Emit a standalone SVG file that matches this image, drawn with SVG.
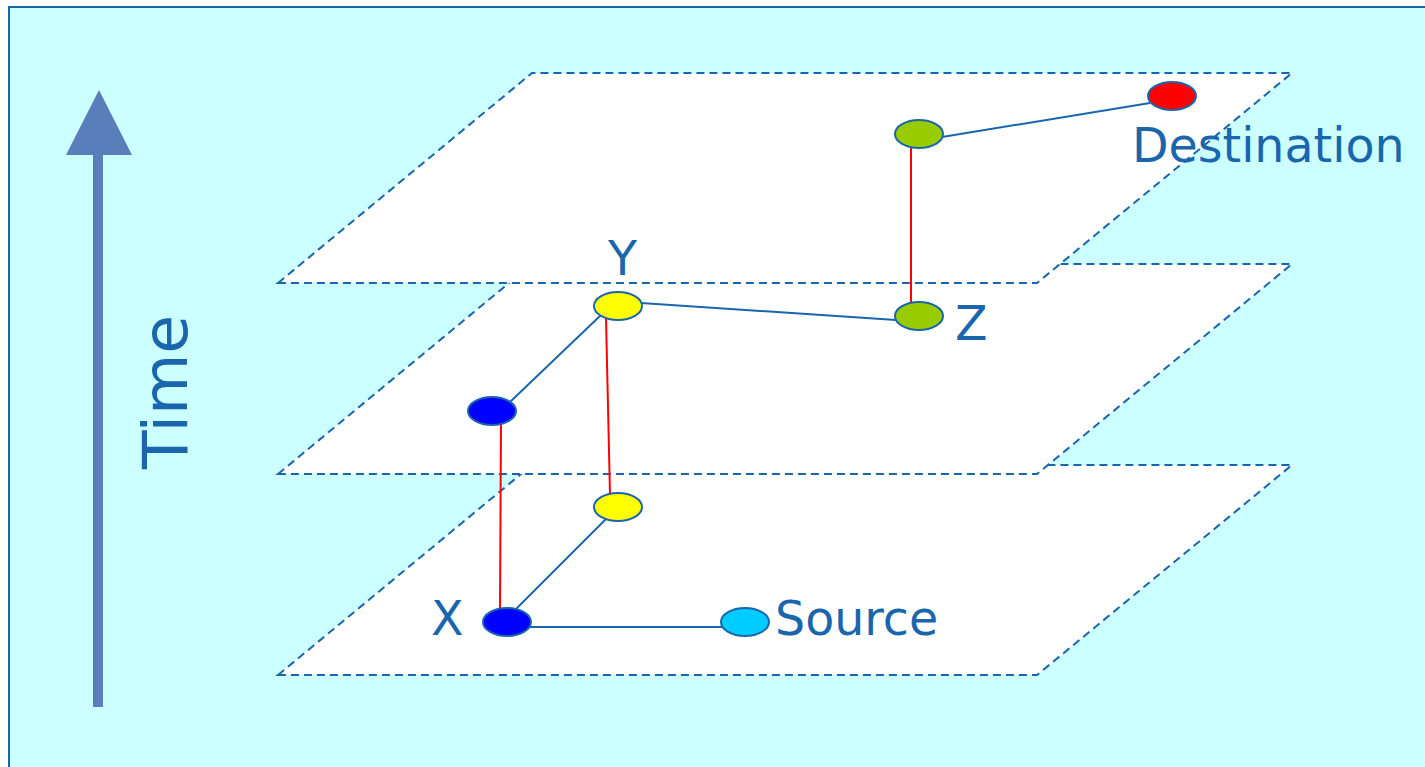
<svg xmlns="http://www.w3.org/2000/svg" width="1425" height="767" viewBox="0 0 1425 767">
<style>
.plane{fill:#FFFFFF;stroke:#1A66AC;stroke-width:2;stroke-dasharray:8 5}
.edge{stroke:#1A66AC;stroke-width:2;fill:none}
.link{stroke:#FF0000;stroke-width:2;fill:none}
.node{stroke:#1A66AC;stroke-width:2}
.lbl{font-family:"DejaVu Sans",sans-serif;font-size:47.5px;fill:#1A66AC}
</style>
<rect x="9" y="7" width="1430" height="780" fill="#CCFFFF" stroke="#1A66AC" stroke-width="2"/>
<g id="time-axis">
<rect x="93" y="150" width="10" height="557" fill="#5A7EBA"/>
<polygon points="99,90 132,155 66,155" fill="#5A7EBA"/>
<text class="lbl" x="0" y="0" style="font-size:63px" transform="translate(187,392) rotate(-90)" text-anchor="middle">Time</text>
</g>
<g id="planes">
<polygon class="plane" points="278,675 532,465 1292,465 1037,675"/>
<polygon class="plane" points="278,474 532,264 1292,264 1037,474"/>
<polygon class="plane" points="278,283 532,73 1292,73 1037,283"/>
</g>
<g id="connectors">
<line class="edge" x1="507" y1="627" x2="745" y2="627"/>
<line class="edge" x1="514" y1="611" x2="608" y2="517"/>
<line class="link" x1="500" y1="612" x2="501" y2="424"/>
<line class="link" x1="610" y1="495" x2="606" y2="318"/>
<line class="edge" x1="510" y1="402" x2="601" y2="315"/>
<line class="edge" x1="641" y1="303" x2="896" y2="320"/>
<line class="link" x1="911" y1="302" x2="911" y2="148"/>
<line class="edge" x1="942" y1="137" x2="1150" y2="103"/>
</g>
<g id="node-source"><ellipse class="node" cx="745" cy="622" rx="24" ry="14" fill="#00CCFF"/><text class="lbl" x="775" y="635">Source</text></g>
<g id="node-x"><ellipse class="node" cx="507" cy="622" rx="24" ry="14" fill="#0000FF"/><text class="lbl" x="431" y="635">X</text></g>
<g id="node-y0"><ellipse class="node" cx="618" cy="507" rx="24" ry="14" fill="#FFFF00"/></g>
<g id="node-x1"><ellipse class="node" cx="492" cy="411" rx="24" ry="14" fill="#0000FF"/></g>
<g id="node-y"><ellipse class="node" cx="618" cy="306" rx="24" ry="14" fill="#FFFF00"/><text class="lbl" x="608" y="275">Y</text></g>
<g id="node-z"><ellipse class="node" cx="919" cy="316" rx="24" ry="14" fill="#99CC00"/><text class="lbl" x="955" y="340">Z</text></g>
<g id="node-z2"><ellipse class="node" cx="919" cy="134" rx="24" ry="14" fill="#99CC00"/></g>
<g id="node-destination"><ellipse class="node" cx="1172" cy="96" rx="24" ry="14" fill="#FF0000"/><text class="lbl" x="1132" y="162">Destination</text></g>
</svg>
